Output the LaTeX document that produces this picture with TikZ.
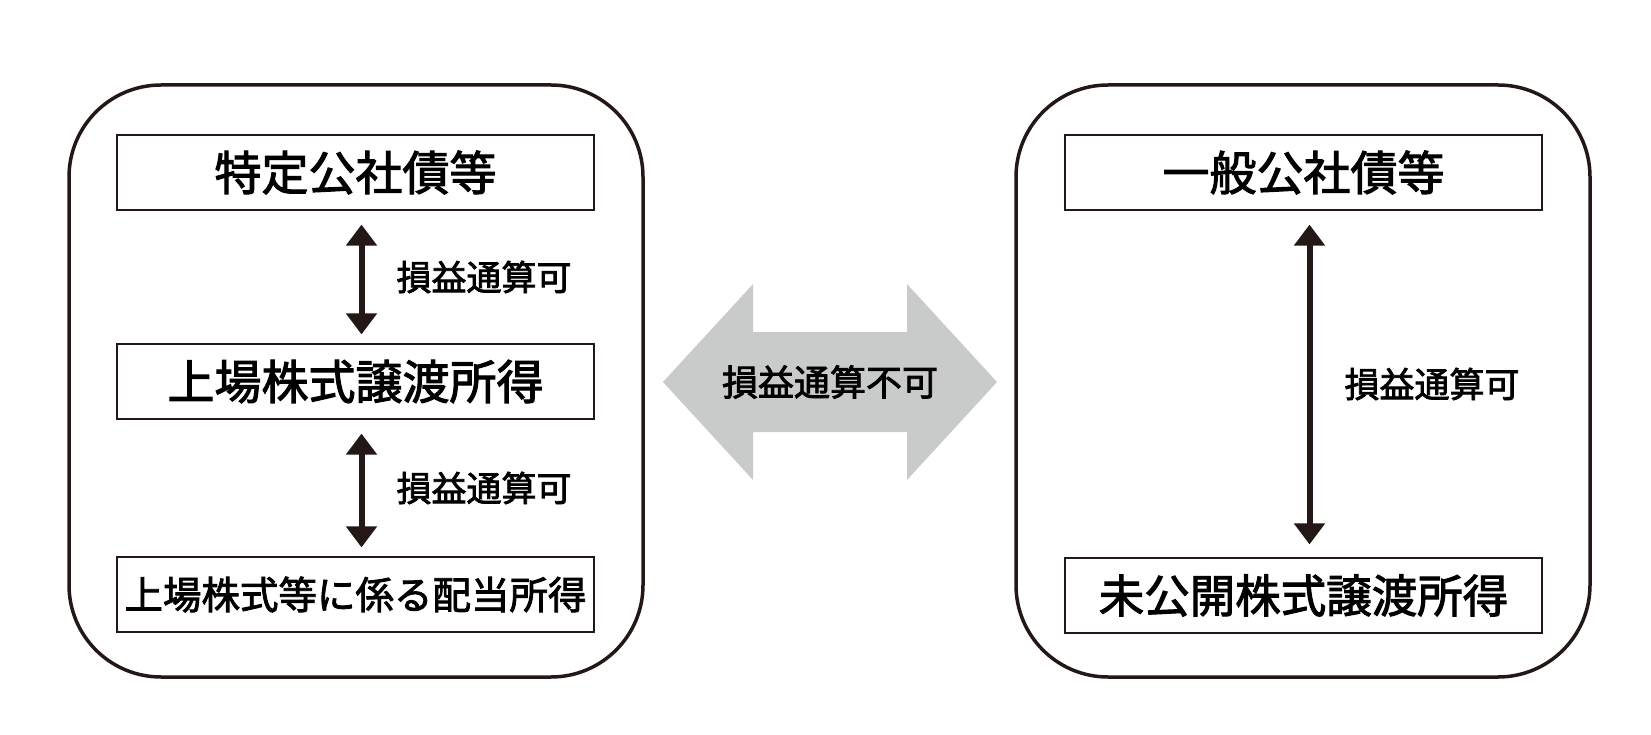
\documentclass[tikz,border=0pt]{standalone}
\usepackage{fontspec}
\newfontfamily\jpfont[FakeBold=2.2]{Noto Sans CJK JP}
\definecolor{inkdark}{RGB}{35, 24, 21}
\definecolor{arrowgray}{RGB}{201, 202, 202}
\usetikzlibrary{arrows.meta, positioning}

\begin{document}
\begin{tikzpicture}[
        x=1pt, y=-1pt,
        panel/.style={
            draw=inkdark,
            line width=3.5pt,
            rounded corners=92pt,
            minimum width=574pt,
            minimum height=592pt
        },
        item/.style={
            draw=inkdark,
            line width=1.2pt,
            minimum width=477pt,
            minimum height=75pt,
            inner sep=0pt,
            font=\jpfont\fontsize{47}{56}\selectfont
        },
        arr/.style={{Triangle[width=30pt,length=21pt]}-{Triangle[width=30pt,length=21pt]}, line width=6pt, inkdark},
        note/.style={font=\jpfont\fontsize{35}{42}\selectfont, inner sep=0pt, text=black}
    ]
        \useasboundingbox (0,0) rectangle (1651,735);
        % Left panel
        \node[panel] (pl) at (356,381) {};
        \node[item] (l1) at (355.5,172.5) {特定公社債等};
        \node[item] (l2) at (355.5,381.5) {上場株式譲渡所得};
        \node[item, font=\jpfont\fontsize{38.5}{46}\selectfont] (l3) at (355.5,594.5) {上場株式等に係る配当所得};
        % Right panel
        \node[panel] (pr) at (1303,381) {};
        \node[item] (r1) at (1303.5,172.5) {一般公社債等};
        \node[item, font=\jpfont\fontsize{45.5}{54}\selectfont] (r2) at (1303.5,595.5) {未公開株式譲渡所得};
        % Middle arrow
        \coordinate (mid) at (830,382);
        \fill[arrowgray, shift={(mid)}] (-167,0) -- (-77,-98) -- (-77,-50) -- (77,-50) -- (77,-98) -- (167,0)
            -- (77,98) -- (77,50) -- (-77,50) -- (-77,98) -- cycle;
        \node[note, font=\jpfont\fontsize{36}{43}\selectfont] (ng) at (mid) {損益通算不可};
        % Arrows
        \draw[arr, shorten <=14pt, shorten >=9pt] ([xshift=6pt]l1.south) -- node[note, right=32pt] {損益通算可} ([xshift=6pt]l2.north);
        \draw[arr, shorten <=14pt, shorten >=9pt] ([xshift=6pt]l2.south) -- node[note, right=32pt] {損益通算可} ([xshift=6pt]l3.north);
        \draw[arr, shorten <=14pt, shorten >=13pt] ([xshift=6pt]r1.south) -- node[note, right=32pt] {損益通算可} ([xshift=6pt]r2.north);
    \end{tikzpicture}
\end{document}
